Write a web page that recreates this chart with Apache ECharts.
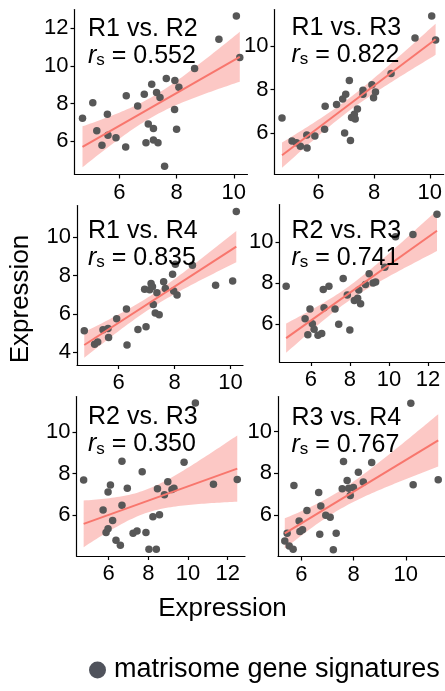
<!DOCTYPE html>
<html><head><meta charset="utf-8">
<script src="https://cdn.jsdelivr.net/npm/echarts@6/dist/echarts.min.js"></script>
<style>html,body{margin:0;padding:0;background:#fff}#c{width:445px;height:691px}</style>
</head><body><div id="c"></div>
<script>
// ---- data ----
const panelTitles = ['R1 vs. R2','R1 vs. R3','R1 vs. R4','R2 vs. R3','R2 vs. R3','R3 vs. R4'];
const panelRs = ['0.552','0.822','0.835','0.741','0.350','0.767'];

const p1x = [4.71,5.07,5.21,5.39,5.58,5.60,5.88,6.22,6.24,6.64,6.87,7.01,6.93,7.13,7.19,7.19,7.30,7.35,7.42,7.58,7.64,7.93,7.94,8.00,8.08,8.63,9.48,10.09,10.21];
const p1y = [7.22,8.04,6.56,5.80,7.44,6.33,6.19,5.70,8.41,7.87,8.49,6.92,5.93,9.03,6.69,6.07,8.59,5.93,8.33,4.69,9.33,7.69,9.23,6.65,8.86,9.86,11.40,12.63,10.44];

const p2x = [4.69,5.05,5.21,5.35,5.58,5.59,5.87,6.22,6.24,6.65,6.87,6.98,6.94,7.11,7.15,7.19,7.29,7.32,7.40,7.60,7.60,7.92,7.98,8.05,8.61,9.47,10.07,10.21];
const p2y = [6.69,5.63,5.55,5.39,5.91,5.31,5.86,6.17,7.23,7.32,7.57,7.79,6.00,8.42,5.66,6.71,6.86,6.65,7.11,7.97,7.79,8.22,7.63,7.89,8.74,10.38,11.39,10.28];

const p3x = [4.77,5.14,5.25,5.44,5.62,5.64,5.93,6.28,6.30,6.69,6.93,6.98,7.11,7.16,7.21,7.24,7.31,7.37,7.45,7.61,7.67,7.93,7.97,8.03,8.09,8.64,9.47,10.08,10.21];
const p3y = [5.12,4.42,4.53,5.17,5.23,4.77,5.75,6.26,4.38,5.19,7.28,5.33,7.26,7.59,7.42,6.49,6.05,7.10,5.96,7.68,7.32,8.07,7.19,8.59,6.98,8.54,7.49,7.72,11.35];

const p4x = [4.74,5.71,5.96,5.85,6.08,6.17,6.37,6.56,6.64,6.68,6.93,7.24,7.43,7.66,7.87,8.00,8.23,8.40,8.46,8.55,8.80,8.99,9.19,9.32,9.79,10.34,11.23,12.46];
const p4y = [7.84,6.25,6.72,5.47,6.00,5.73,5.44,5.53,7.68,6.78,7.84,6.73,5.98,8.22,7.41,5.70,7.14,7.25,7.65,6.98,7.92,8.45,8.00,8.05,8.77,10.26,10.37,11.36];

const p5x = [4.74,5.72,5.87,5.97,5.97,6.09,6.20,6.37,6.59,6.67,6.67,6.94,7.23,7.43,7.69,7.88,8.03,8.23,8.40,8.46,8.56,8.81,8.98,9.19,9.29,9.80,10.37,11.28,12.48];
const p5y = [7.69,6.24,5.15,5.34,7.11,7.45,5.73,4.78,4.54,8.60,6.47,7.29,5.12,5.23,8.09,5.15,4.35,5.92,4.35,7.27,6.02,6.98,7.61,7.24,7.29,8.55,11.42,7.49,7.72];

const p6x = [5.36,5.45,5.53,5.68,5.71,5.91,5.94,6.04,6.21,6.66,6.70,6.74,6.93,7.10,7.22,7.33,7.61,7.56,7.75,7.81,7.87,7.99,8.18,8.37,8.69,10.19,10.28,11.24];
const p6y = [4.75,5.12,4.51,4.35,7.41,5.71,5.20,5.28,6.21,7.07,5.07,6.43,5.98,5.89,4.32,5.12,8.56,7.25,7.65,7.28,6.93,7.31,8.05,7.58,8.51,11.36,7.44,7.68];

const xTicks = [[6,8,10],[6,8,10],[6,8,10],[6,8,10,12],[6,8,10,12],[6,8,10]];
const yTicks = [[6,8,10,12],[6,8,10],[4,6,8,10],[6,8,10],[6,8,10],[6,8,10]];
const xRanges = [[4.43,10.48],[4.42,10.50],[4.51,10.45],[4.40,12.87],[4.38,12.87],[5.10,11.50]];
const yRanges = [[4.25,12.98],[4.09,11.69],[3.33,11.66],[4.13,11.84],[4.02,11.73],[4.00,11.68]];
const axisTitle = 'Expression';
const legendName = 'matrisome gene signatures';

// ---- layout ----
const grids = [
  {left:74.5, top:9.5, width:173, height:165},
  {left:274.5, top:9.5, width:173, height:165},
  {left:77, top:205.5, width:166, height:159.5},
  {left:279.5, top:204.5, width:166, height:157.5},
  {left:76.5, top:396.5, width:168.5, height:159.5},
  {left:278, top:396.5, width:168, height:160}
];
const titlePos = [[83,10.5],[286.5,9.5],[83,212.5],[286.5,212.5],[83,399],[286.5,399.5]];

const FONT = '"Liberation Sans", Arial, sans-serif';
const PX = [p1x,p2x,p3x,p4x,p5x,p6x];
const PY = [p1y,p2y,p3y,p4y,p5y,p6y];

// linear-model fit with 95% confidence band (as geom_smooth(method = "lm"))
function lmFit(xs, ys) {
  const n = xs.length;
  const mx = xs.reduce((a,b)=>a+b,0)/n, my = ys.reduce((a,b)=>a+b,0)/n;
  let sxx=0, sxy=0;
  for (let i=0;i<n;i++){ sxx += (xs[i]-mx)**2; sxy += (xs[i]-mx)*(ys[i]-my); }
  const b = sxy/sxx, a = my - b*mx;
  let sse=0; for (let i=0;i<n;i++){ sse += (ys[i]-a-b*xs[i])**2; }
  const s = Math.sqrt(sse/(n-2));
  const df = n-2, t = 1.96 + 2.4/df;
  const lo = Math.min(...xs), hi = Math.max(...xs);
  const band = [];
  const steps = 60;
  for (let k=0;k<=steps;k++){
    const x = lo + (hi-lo)*k/steps;
    const yh = a + b*x;
    const se = s*Math.sqrt(1/n + (x-mx)**2/sxx);
    band.push([x, yh - t*se, yh + t*se, yh]);
  }
  return band;
}

const series = [], xAxis = [], yAxis = [], title = [];
const axisCommon = {
  type:'value',
  axisLine:{show:true, onZero:false, lineStyle:{color:'#000', width:1.2}},
  splitLine:{show:false}
};
for (let i=0;i<6;i++){
  xAxis.push(Object.assign({}, axisCommon, {
    gridIndex:i, min:xRanges[i][0], max:xRanges[i][1],
    axisTick:{show:true, length:4, customValues:xTicks[i], lineStyle:{color:'#000', width:1.2}},
    axisLabel:{customValues:xTicks[i], fontSize:22, color:'#000', margin:7, fontFamily:FONT}
  }));
  yAxis.push(Object.assign({}, axisCommon, {
    gridIndex:i, min:yRanges[i][0], max:yRanges[i][1],
    axisTick:{show:true, length:4, customValues:yTicks[i], lineStyle:{color:'#000', width:1.2}},
    axisLabel:{customValues:yTicks[i], fontSize:22, color:'#000', margin:6, fontFamily:FONT}
  }));
  const band = lmFit(PX[i], PY[i]);
  series.push({
    type:'scatter', name:legendName, xAxisIndex:i, yAxisIndex:i,
    data: PX[i].map((x,k)=>[x, PY[i][k]]),
    symbol:'circle', symbolSize:7.5,
    itemStyle:{color:'#575757', opacity:1}, silent:true
  });
  series.push({
    type:'custom', xAxisIndex:i, yAxisIndex:i, silent:true,
    data: band, encode:{x:0, y:[1,2]},
    renderItem:(params, api)=>{
      if (params.dataIndex !== 0) return null;
      const up = band.map(d=>api.coord([d[0], d[2]]));
      const dn = band.map(d=>api.coord([d[0], d[1]])).reverse();
      return {type:'polygon', shape:{points: up.concat(dn)}, style:{fill:'rgba(248,118,109,0.4)'}};
    }
  });
  series.push({
    type:'line', xAxisIndex:i, yAxisIndex:i, silent:true, symbol:'none',
    data: [[band[0][0], band[0][3]], [band[band.length-1][0], band[band.length-1][3]]],
    lineStyle:{color:'#F8766D', width:2}
  });
  title.push({
    left: titlePos[i][0], top: titlePos[i][1],
    text: panelTitles[i] + '\n{i|r}{s|s}{n| = ' + panelRs[i] + '}',
    textStyle:{
      fontFamily:FONT, fontSize:25, fontWeight:'normal', color:'#000', lineHeight:27,
      rich:{
        i:{fontFamily:FONT, fontSize:25, fontStyle:'italic', color:'#000', lineHeight:27},
        s:{fontFamily:FONT, fontSize:17, color:'#000', lineHeight:27, padding:[9,0,0,0]},
        n:{fontFamily:FONT, fontSize:25, color:'#000', lineHeight:27}
      }
    }
  });
}

const chart = echarts.init(document.getElementById('c'), null, {renderer:'canvas'});
chart.setOption({
  animation:false,
  backgroundColor:'#fff',
  grid: grids,
  xAxis, yAxis, series, title,
  legend:{
    data:[{name:legendName, icon:'circle', itemStyle:{color:'#50535c'}}],
    left:84, top:650, itemWidth:17, itemHeight:17,
    textStyle:{fontFamily:FONT, fontSize:27, color:'#000', lineHeight:30, padding:[0,0,0,3]},
    selectedMode:false
  },
  graphic:[
    {type:'text', left:'center', x:0, top:596, style:{text:axisTitle, font:'26px '+FONT, fill:'#000'}},
    {type:'text', x:8, y:299, rotation:Math.PI/2, style:{text:axisTitle, font:'26px '+FONT, fill:'#000', align:'center', verticalAlign:'top'}}
  ]
});
</script>
</body></html>
